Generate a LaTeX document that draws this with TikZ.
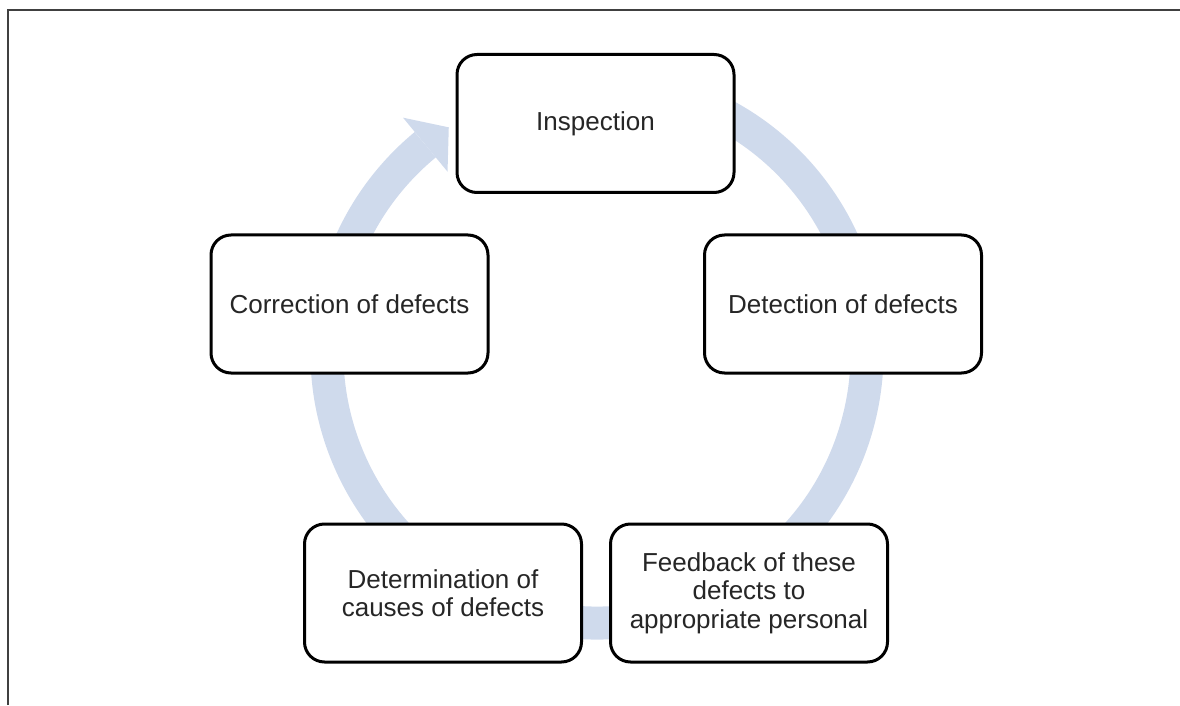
\documentclass[tikz,border=0pt]{standalone}
\usepackage{fontspec}
\setmainfont{Liberation Sans}
\definecolor{ringblue}{RGB}{207,218,236}
\definecolor{framegray}{RGB}{64,64,64}
\begin{document}
\begin{tikzpicture}[x=1pt,y=1pt,
  stepbox/.style={draw=black, line width=3pt, fill=white, rounded corners=20pt,
    minimum width=277pt, minimum height=138pt, inner sep=0pt, align=center,
    font=\fontsize{26}{28.5}\selectfont, text=black!85},
  ring/.style={draw=ringblue, line width=33pt, line cap=butt}]
\useasboundingbox (0,0) rectangle (1180,705);
% frame
\draw[framegray, line width=2pt] (7.5,0) -- (7.5,694.5) -- (1180,694.5);
% ring arrow
\coordinate (c) at (597,352);
\draw[ring] ([shift={(75:270pt)}]c) arc[start angle=75, end angle=-230.5, radius=270pt];
\fill[ringblue] ([shift={(129.5:305pt)}]c) -- ([shift={(123.3:270pt)}]c) -- ([shift={(129.5:235pt)}]c) -- cycle;
% boxes
\node[stepbox] (insp) at (595.5,581.5) {\raisebox{-2pt}{Inspection}};
\node[stepbox] (det) at (843,401) {Detection of defects};
\node[stepbox] (fb) at (749,112) {Feedback of these\\defects to\\appropriate  personal};
\node[stepbox] (dtm) at (443,112) {Determination  of\\causes of defects};
\node[stepbox] (corr) at (349.5,401) {Correction  of defects};
\end{tikzpicture}
\end{document}
